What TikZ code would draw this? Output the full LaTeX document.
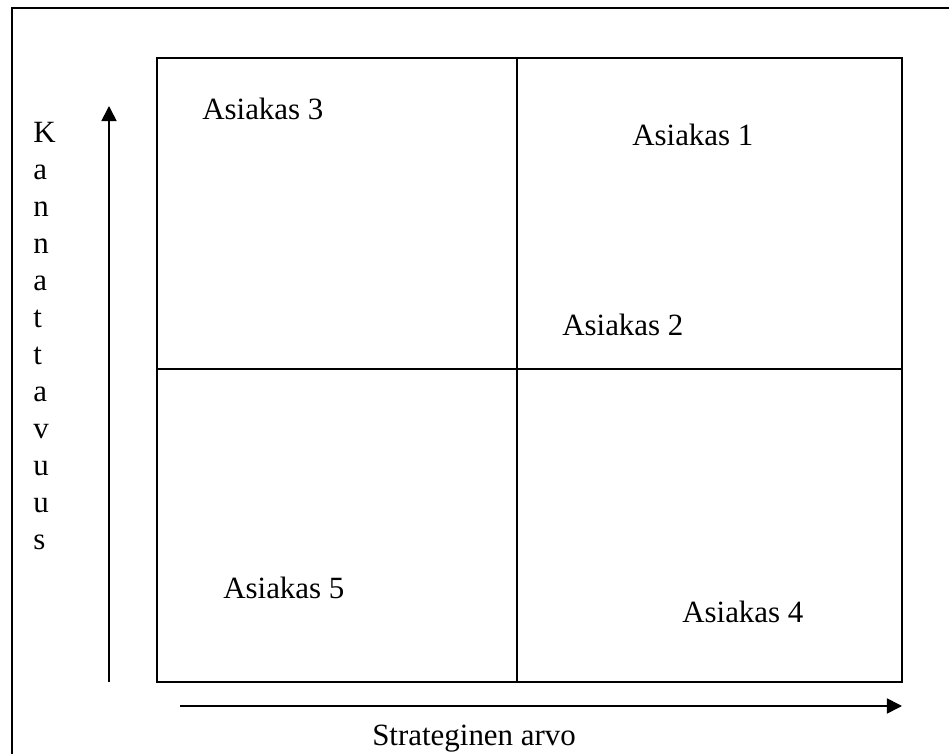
\documentclass[tikz,border=0pt]{standalone}
\usepackage{fontspec}
\setmainfont{Liberation Serif}
\usetikzlibrary{arrows.meta}
\tikzset{
  asiakas/.style={anchor=base west,inner sep=0pt,font=\fontsize{22}{26}\selectfont},
  axis/.style={line width=1.2pt,-{Triangle[length=0.38cm,width=0.38cm]}},
  frame/.style={line width=1.2pt}
}
\begin{document}
\begin{tikzpicture}[x=0.025cm,y=-0.025cm]
        \clip (0,0) rectangle (949,754);
        %% page frame
        \draw[frame] (12,8) rectangle (990,790);
        %% quadrants
        \draw[frame] (157,58) rectangle (902,682);
        \draw[frame] (517,58) -- (517,682);
        \draw[frame] (157,369) -- (902,369);
        %% axes
        \coordinate (ybot) at (109,682);
        \coordinate (ytop) at (109,106);
        \draw[axis] (ybot) -- (ytop);
        \coordinate (xleft) at (180,706);
        \coordinate (xright) at (902,706);
        \draw[axis] (xleft) -- (xright);
        %% customers
        \node[asiakas] (a3) at (202,120) {Asiakas 3};
        \node[asiakas] (a1) at (632,146) {Asiakas 1};
        \node[asiakas] (a2) at (562,336) {Asiakas 2};
        \node[asiakas] (a5) at (223,598) {Asiakas 5};
        \node[asiakas] (a4) at (682,622) {Asiakas 4};
        %% axis labels
        \foreach \l [count=\i from 0] in {K,a,n,n,a,t,t,a,v,u,u,s}
          \node[asiakas] (k\i) at (33,143+37*\i) {\l};
        \node[asiakas] (xlab) at (372,745) {Strateginen arvo};
\end{tikzpicture}
\end{document}
